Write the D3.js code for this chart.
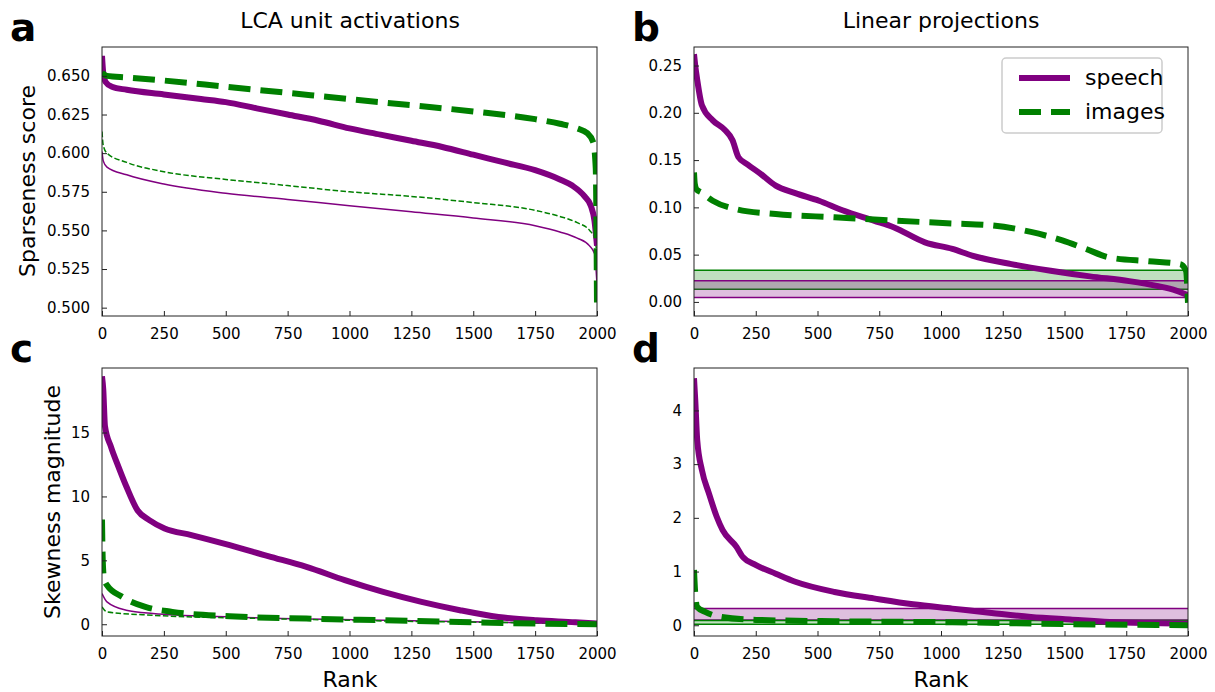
<!DOCTYPE html>
<meta charset="utf-8">
<script src="https://d3js.org/d3.v7.min.js"></script>
<style>
  body { margin: 0; background: #fff; }
  text { font-family: "DejaVu Sans", sans-serif; fill: #000; }
  .tick line { stroke: #222; }
</style>
<div id="my_dataviz"></div>
<script>

  ////////////////////// Data ////////////////////////////
  var rankTicks = [0, 250, 500, 750, 1000, 1250, 1500, 1750, 2000];

  // a: LCA sparseness
  var lcaSparsSpeech = [[0,0.663],[5,0.652],[15,0.646],[40,0.643],[100,0.641],[250,0.638],[400,0.635],[500,0.633],[625,0.629],[750,0.625],[875,0.621],[1000,0.616],[1125,0.612],[1250,0.608],[1375,0.604],[1500,0.599],[1625,0.594],[1750,0.589],[1850,0.583],[1900,0.579],[1950,0.572],[1975,0.566],[1990,0.556],[2000,0.540]];
  var lcaSparsImages = [[0,0.652],[20,0.650],[100,0.649],[250,0.647],[500,0.643],[750,0.639],[1000,0.635],[1250,0.631],[1500,0.627],[1750,0.622],[1850,0.619],[1920,0.616],[1960,0.613],[1985,0.607],[1995,0.590],[2000,0.502]];
  var lcaSparsSpeechThin = [[0,0.601],[5,0.595],[20,0.591],[100,0.586],[250,0.580],[500,0.574],[750,0.570],[1000,0.566],[1250,0.562],[1500,0.558],[1750,0.553],[1850,0.549],[1920,0.545],[1970,0.540],[1990,0.535],[2000,0.515]];
  var lcaSparsImagesThin = [[0,0.614],[5,0.605],[20,0.600],[100,0.594],[250,0.588],[500,0.583],[750,0.579],[1000,0.575],[1250,0.572],[1500,0.568],[1750,0.563],[1850,0.559],[1920,0.555],[1970,0.550],[1990,0.545],[2000,0.535]];

  // b: linear projection sparseness
  var linSparsSpeech = [[0,0.262],[5,0.250],[13,0.235],[32,0.208],[76,0.192],[124,0.182],[156,0.171],[180,0.153],[219,0.145],[267,0.136],[331,0.123],[410,0.115],[506,0.107],[601,0.097],[728,0.086],[808,0.079],[935,0.063],[1046,0.056],[1126,0.049],[1285,0.040],[1444,0.033],[1603,0.027],[1762,0.022],[1873,0.017],[1952,0.012],[2000,0.007]];
  var linSparsImages = [[0,0.137],[3,0.125],[10,0.119],[29,0.116],[76,0.107],[172,0.098],[331,0.093],[569,0.0895],[808,0.086],[1046,0.083],[1205,0.081],[1364,0.074],[1491,0.065],[1587,0.056],[1682,0.047],[1841,0.043],[1968,0.040],[1992,0.033],[2000,-0.001]];
  var linSparsSpeechBand = [0.0046, 0.0223];
  var linSparsImagesBand = [0.0135, 0.0336];

  // c: LCA skewness
  var lcaSkewSpeech = [[0,19.4],[5,18.4],[12,15.5],[36,13.9],[67,12.3],[98,10.8],[144,8.9],[191,8.15],[253,7.5],[361,6.98],[516,6.19],[671,5.33],[826,4.49],[981,3.45],[1136,2.53],[1291,1.75],[1446,1.1],[1602,0.57],[1757,0.31],[1912,0.16],[2000,0.05]];
  var lcaSkewImages = [[0,8.2],[3,5.0],[8,3.6],[20,3.06],[82,2.14],[175,1.36],[284,0.97],[516,0.63],[826,0.44],[1136,0.31],[1446,0.18],[1757,0.05],[2000,0.0]];
  var lcaSkewSpeechThin = [[0,2.4],[20,1.75],[98,1.1],[206,0.84],[516,0.57],[1136,0.31],[1757,0.1],[2000,0.02]];
  var lcaSkewImagesThin = [[0,1.36],[20,0.97],[206,0.7],[671,0.44],[1136,0.26],[1757,0.1],[2000,0.02]];

  // d: linear projection skewness
  var linSkewSpeech = [[0,4.6],[5,4.2],[13,3.45],[32,2.89],[60,2.46],[92,2.02],[116,1.77],[172,1.46],[196,1.28],[251,1.12],[331,0.96],[410,0.81],[569,0.62],[728,0.50],[887,0.39],[1046,0.31],[1205,0.23],[1364,0.155],[1523,0.106],[1682,0.06],[1841,0.04],[2000,0.03]];
  var linSkewImages = [[0,1.03],[5,0.59],[13,0.34],[45,0.25],[92,0.17],[251,0.1],[569,0.075],[1046,0.056],[1523,0.02],[2000,0.0]];
  var linSkewSpeechBand = [0.10, 0.31];
  var linSkewImagesBand = [0.02, 0.09];

  var purple = '#800080',
      green = '#008000';

  ////////////////////// Panels ////////////////////////////
  var panels = [
    {key:'a', x0:102, x1:597, y0:47, y1:316, ydom:[0.4946,0.6687],
     yticks:[0.5,0.525,0.55,0.575,0.6,0.625,0.65], fmt:'.3f', letterX:10,
     lines:[[lcaSparsSpeechThin,purple,1.5,false],[lcaSparsImagesThin,green,1.5,true],
            [lcaSparsSpeech,purple,6,false],[lcaSparsImages,green,6,true]], bands:[]},
    {key:'b', x0:694, x1:1188, y0:47, y1:316, ydom:[-0.0149,0.2696],
     yticks:[0,0.05,0.1,0.15,0.2,0.25], fmt:'.2f', letterX:632,
     lines:[[linSparsSpeech,purple,6,false],[linSparsImages,green,6,true]],
     bands:[[linSparsImagesBand,green],[linSparsSpeechBand,purple]]},
    {key:'c', x0:102, x1:597, y0:368, y1:636, ydom:[-0.92,20.05],
     yticks:[0,5,10,15], fmt:'d', letterX:10,
     lines:[[lcaSkewSpeechThin,purple,1.5,false],[lcaSkewImagesThin,green,1.5,true],
            [lcaSkewSpeech,purple,6,false],[lcaSkewImages,green,6,true]], bands:[]},
    {key:'d', x0:694, x1:1188, y0:368, y1:636, ydom:[-0.2,4.79],
     yticks:[0,1,2,3,4], fmt:'d', letterX:632,
     lines:[[linSkewSpeech,purple,6,false],[linSkewImages,green,6,true]],
     bands:[[linSkewSpeechBand,purple],[linSkewImagesBand,green]]}
  ];

  var svg = d3.select('#my_dataviz')
    .append('svg')
      .attr('width', 1215)
      .attr('height', 692);

  panels.forEach(function(p){
    var x = d3.scaleLinear().domain([0, 2000]).range([p.x0, p.x1]);
    var y = d3.scaleLinear().domain(p.ydom).range([p.y1, p.y0]);

    var g = svg.append('g');

    g.append('clipPath')
      .attr('id', 'clip_' + p.key)
      .append('rect')
        .attr('x', p.x0).attr('y', p.y0)
        .attr('width', p.x1 - p.x0).attr('height', p.y1 - p.y0);

    var plot = g.append('g').attr('clip-path', 'url(#clip_' + p.key + ')');

    // shaded bands (null ranges)
    p.bands.forEach(function(b){
      plot.append('rect')
        .attr('x', p.x0).attr('width', p.x1 - p.x0)
        .attr('y', y(b[0][1])).attr('height', y(b[0][0]) - y(b[0][1]))
        .style('fill', b[1]).style('fill-opacity', 0.25);
      b[0].forEach(function(v){
        plot.append('line')
          .attr('x1', p.x0).attr('x2', p.x1)
          .attr('y1', y(v)).attr('y2', y(v))
          .style('stroke', b[1]).style('stroke-width', 1.5);
      });
    });

    var line = d3.line()
      .x(function(d){ return x(d[0]); })
      .y(function(d){ return y(d[1]); })
      .curve(d3.curveMonotoneX);

    p.lines.forEach(function(l){
      var dash = l[3] ? (l[2] > 3 ? '22,10' : '5.5,2.4') : null;
      plot.append('path')
        .datum(l[0])
        .attr('d', line)
        .style('fill', 'none')
        .style('stroke', l[1])
        .style('stroke-width', l[2])
        .style('stroke-dasharray', dash);
    });

    // axes, ticks pointing in
    g.append('g')
      .attr('transform', 'translate(0,' + p.y1 + ')')
      .call(d3.axisBottom(x).tickValues(rankTicks).tickSize(-5).tickPadding(12.5).tickFormat(d3.format('d')))
      .call(function(s){ s.select('.domain').remove(); });

    g.append('g')
      .attr('transform', 'translate(' + p.x0 + ',0)')
      .call(d3.axisLeft(y).tickValues(p.yticks).tickSize(-5).tickPadding(12).tickFormat(d3.format(p.fmt)))
      .call(function(s){ s.select('.domain').remove(); });

    g.selectAll('.tick text')
      .style('font-family', '"DejaVu Sans", sans-serif')
      .style('font-size', '15px')
      .style('fill', '#000');

    // frame
    g.append('rect')
      .attr('x', p.x0).attr('y', p.y0)
      .attr('width', p.x1 - p.x0).attr('height', p.y1 - p.y0)
      .style('fill', 'none').style('stroke', '#222').style('stroke-width', 1);

    // panel letter
    g.append('text')
      .attr('x', p.letterX)
      .attr('y', p.y0 - 6)
      .style('font-size', '39px')
      .style('font-weight', 'bold')
      .text(p.key);
  });

  ////////////////////// Titles and labels ////////////////////////////
  svg.append('text').attr('x', 350).attr('y', 28).attr('text-anchor', 'middle')
    .style('font-size', '22px').text('LCA unit activations');
  svg.append('text').attr('x', 941).attr('y', 28).attr('text-anchor', 'middle')
    .style('font-size', '22px').text('Linear projections');

  svg.append('text').attr('transform', 'translate(35,181) rotate(-90)').attr('text-anchor', 'middle')
    .style('font-size', '22px').text('Sparseness score');
  svg.append('text').attr('transform', 'translate(60,502) rotate(-90)').attr('text-anchor', 'middle')
    .style('font-size', '22px').text('Skewness magnitude');

  svg.append('text').attr('x', 350).attr('y', 687).attr('text-anchor', 'middle')
    .style('font-size', '22px').text('Rank');
  svg.append('text').attr('x', 941).attr('y', 687).attr('text-anchor', 'middle')
    .style('font-size', '22px').text('Rank');

  ////////////////////// Legend ////////////////////////////
  var legendData = [
    {name:'speech', color:purple, dash:null},
    {name:'images', color:green, dash:'22,10'}
  ];

  var legend = svg.append('g').attr('transform', 'translate(1002,58)');

  legend.append('rect')
    .attr('width', 160).attr('height', 75)
    .attr('rx', 4)
    .style('fill', 'rgba(255,255,255,0.8)')
    .style('stroke', '#ccc').style('stroke-width', 1.5);

  var item = legend.selectAll('.legends')
    .data(legendData)
    .enter()
    .append('g')
    .classed('legends', true)
    .attr('transform', function(d, i){ return 'translate(0,' + (20 + i*34) + ')'; });

  item.append('line')
    .attr('x1', 17).attr('x2', 68)
    .style('stroke', function(d){ return d.color; })
    .style('stroke-width', 6)
    .style('stroke-dasharray', function(d){ return d.dash; });

  item.append('text')
    .attr('x', 83).attr('y', 7)
    .style('font-size', '22px')
    .text(function(d){ return d.name; });

</script>
